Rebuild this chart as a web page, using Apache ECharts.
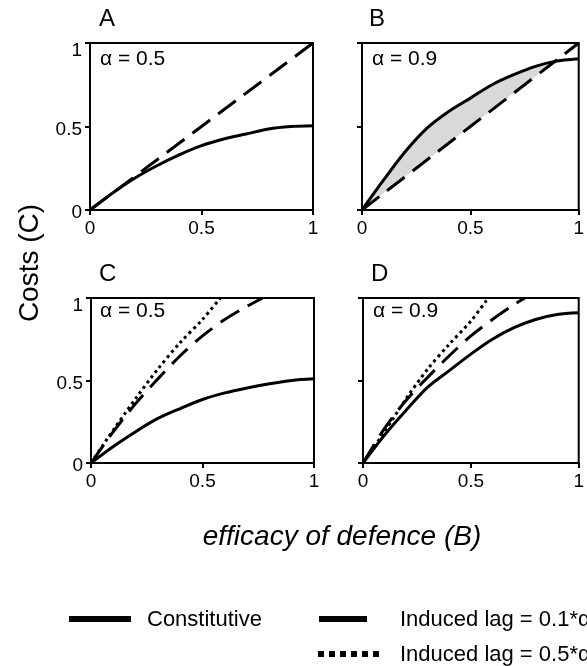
<!DOCTYPE html>
<html>
<head>
<meta charset="utf-8">
<script src="https://cdn.jsdelivr.net/npm/echarts@6/dist/echarts.min.js"></script>
<style>
  html, body { margin: 0; padding: 0; background: #fff; }
  #chart { width: 587px; height: 666px; }
</style>
</head>
<body>
<div id="chart"></div>
<script>
// efficacy of defence (B) sample points
const effX = [0, 0.1, 0.2, 0.3, 0.4, 0.5, 0.6, 0.7, 0.8, 0.9, 1]
const effXB = [0, 0.1, 0.2, 0.3, 0.4, 0.5, 0.6, 0.7, 0.8, 0.89, 1]
const diagX = [0, 1]
const diagY = [0, 1]

// panel A, alpha = 0.5
const constA = [0, 0.1, 0.19, 0.265, 0.33, 0.385, 0.425, 0.455, 0.485, 0.5, 0.505]
// panel B, alpha = 0.9
const constB = [0, 0.18, 0.35, 0.49, 0.59, 0.67, 0.75, 0.81, 0.86, 0.89, 0.905]
// panel C, alpha = 0.5
const constC = [0, 0.1, 0.19, 0.27, 0.33, 0.385, 0.425, 0.455, 0.48, 0.5, 0.51]
const lag01CX = [0, 0.1, 0.2, 0.3, 0.4, 0.5, 0.6, 0.7, 0.77]
const lag01CY = [0, 0.19, 0.36, 0.51, 0.65, 0.77, 0.87, 0.95, 1]
const lag05CX = [0, 0.1, 0.2, 0.3, 0.4, 0.5, 0.58]
const lag05CY = [0, 0.2, 0.39, 0.57, 0.73, 0.87, 1]
// panel D, alpha = 0.9
const constD = [0, 0.17, 0.32, 0.46, 0.56, 0.66, 0.75, 0.82, 0.87, 0.9, 0.91]
const lag01DX = [0, 0.1, 0.2, 0.3, 0.4, 0.5, 0.6, 0.7, 0.75]
const lag01DY = [0, 0.21, 0.38, 0.52, 0.65, 0.77, 0.87, 0.96, 1]
const lag05DX = [0, 0.1, 0.2, 0.3, 0.4, 0.5, 0.58]
const lag05DY = [0, 0.19, 0.39, 0.57, 0.72, 0.86, 1]

const panelNames = ['A', 'B', 'C', 'D']
const alphaLabels = ['\u03b1 = 0.5', '\u03b1 = 0.9', '\u03b1 = 0.5', '\u03b1 = 0.9']

const font = '"Liberation Sans", Arial, Helvetica, sans-serif'

function zip(xs, ys) {
  return xs.map((x, i) => [x, ys[i]])
}

// grey region in B where constitutive lies above the induced line
const shadePts = zip(effXB, constB).filter(p => p[1] >= p[0])
  .concat(zip(effXB, effXB).filter((p, i) => constB[i] >= p[0]).reverse())

const grids = [
  { left: 90, top: 43, width: 223, height: 167 },
  { left: 362, top: 43, width: 225, height: 167 },
  { left: 91, top: 298, width: 223, height: 165 },
  { left: 363, top: 298, width: 226, height: 165 }
]
// title / alpha label placement per panel
const titlePos = [[99, 7], [369, 7], [99, 262], [371, 262]]
const alphaPos = [[100, 49], [372, 49], [100, 301], [373, 301]]

const chart = echarts.init(document.getElementById('chart'))

function axisBase(showLabel, isY) {
  const ax = {
    type: 'value',
    min: 0,
    max: 1,
    interval: 0.5,
    axisLine: { show: true, lineStyle: { color: '#000', width: 2 } },
    axisTick: { show: true, inside: false, length: 5, lineStyle: { color: '#000', width: 2 } },
    axisLabel: {
      show: showLabel, color: '#000', fontSize: 19, fontFamily: font,
      margin: isY ? 8 : 9,
      padding: isY ? [6, 0, 0, 0] : 0
    },
    splitLine: { show: false }
  }
  if (isY) {
    // the top label sits a little lower than its tick
    ax.axisLabel.formatter = v => (v === 1 ? '{t|1}' : String(v))
    ax.axisLabel.rich = { t: { fontSize: 19, fontFamily: font, color: '#000', padding: [10, 0, 0, 0] } }
  }
  return ax
}

const solid = { color: '#000', width: 3, type: 'solid' }
const dashed = { color: '#000', width: 3, type: [22, 10] }
const dotted = { color: '#000', width: 3, type: [3, 3.5] }

function line(idx, data, style) {
  return {
    type: 'line',
    xAxisIndex: idx,
    yAxisIndex: idx,
    data: data,
    showSymbol: false,
    symbol: 'none',
    smooth: 0.3,
    lineStyle: style,
    silent: true,
    z: 3
  }
}

const graphics = []
grids.forEach((g, i) => {
  graphics.push({
    type: 'text', left: titlePos[i][0], top: titlePos[i][1],
    style: { text: panelNames[i], font: '24px ' + font, fill: '#000' }
  })
  graphics.push({
    type: 'text', left: alphaPos[i][0], top: alphaPos[i][1],
    style: { text: alphaLabels[i], font: '21px ' + font, fill: '#000' }
  })
})
graphics.push({
  type: 'text', x: 30, y: 263, rotation: Math.PI / 2,
  style: { text: 'Costs (C)', font: '28px ' + font, fill: '#000', align: 'center', verticalAlign: 'middle' }
})
graphics.push({
  type: 'text', x: 342, y: 537,
  style: { text: 'efficacy of defence (B)', font: 'italic 28px ' + font, fill: '#000', align: 'center', verticalAlign: 'middle' }
})
// legend
graphics.push({ type: 'line', shape: { x1: 69, y1: 619, x2: 131, y2: 619 }, style: { stroke: '#000', lineWidth: 6 } })
graphics.push({ type: 'text', x: 147, y: 620, style: { text: 'Constitutive', font: '22px ' + font, fill: '#000', verticalAlign: 'middle' } })
graphics.push({ type: 'line', shape: { x1: 319, y1: 619, x2: 367, y2: 619 }, style: { stroke: '#000', lineWidth: 6 } })
graphics.push({ type: 'text', x: 400, y: 620, style: { text: 'Induced lag = 0.1*\u03b1', font: '22px ' + font, fill: '#000', verticalAlign: 'middle' } })
graphics.push({ type: 'line', shape: { x1: 318, y1: 654, x2: 380, y2: 654 }, style: { stroke: '#000', lineWidth: 6, lineDash: [6, 5] } })
graphics.push({ type: 'text', x: 400, y: 655, style: { text: 'Induced lag = 0.5*\u03b1', font: '22px ' + font, fill: '#000', verticalAlign: 'middle' } })

const option = {
  animation: false,
  backgroundColor: '#fff',
  grid: grids.map(g => Object.assign({ show: true, borderColor: '#000', borderWidth: 2, backgroundColor: 'transparent' }, g)),
  xAxis: grids.map((g, i) => Object.assign(axisBase(true, false), { gridIndex: i })),
  yAxis: grids.map((g, i) => Object.assign(axisBase(i % 2 === 0, true), { gridIndex: i })),
  graphic: graphics,
  series: [
    {
      type: 'custom',
      xAxisIndex: 1,
      yAxisIndex: 1,
      data: shadePts,
      silent: true,
      z: 1,
      renderItem: function (params, api) {
        if (params.dataIndex !== 0) return null
        const pts = shadePts.map(p => api.coord(p))
        return { type: 'polygon', shape: { points: pts, smooth: 0.3 }, style: { fill: '#d9d9d9' } }
      }
    },
    line(0, zip(effX, constA), solid),
    line(0, zip(diagX, diagY), dashed),
    line(1, zip(effXB, constB), solid),
    line(1, zip(diagX, diagY), dashed),
    line(2, zip(effX, constC), solid),
    line(2, zip(lag01CX, lag01CY), dashed),
    line(2, zip(lag05CX, lag05CY), dotted),
    line(3, zip(effX, constD), solid),
    line(3, zip(lag01DX, lag01DY), dashed),
    line(3, zip(lag05DX, lag05DY), dotted)
  ]
}
chart.setOption(option)
</script>
</body>
</html>
